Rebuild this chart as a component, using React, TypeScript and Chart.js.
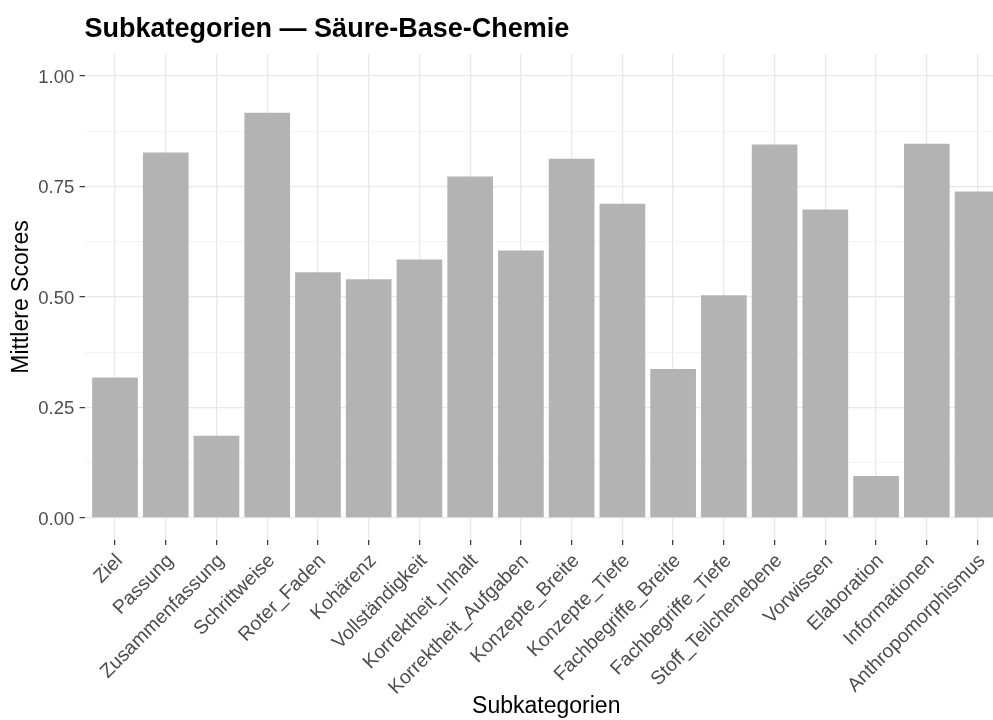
import React, { useEffect, useRef } from "react";
import { Chart, registerables } from "chart.js";

Chart.register(...registerables);

const categories = [
  "Ziel",
  "Passung",
  "Zusammenfassung",
  "Schrittweise",
  "Roter_Faden",
  "Kohärenz",
  "Vollständigkeit",
  "Korrektheit_Inhalt",
  "Korrektheit_Aufgaben",
  "Konzepte_Breite",
  "Konzepte_Tiefe",
  "Fachbegriffe_Breite",
  "Fachbegriffe_Tiefe",
  "Stoff_Teilchenebene",
  "Vorwissen",
  "Elaboration",
  "Informationen",
  "Anthropomorphismus",
];

const scores = [
  0.318, 0.827, 0.186, 0.917, 0.556, 0.54, 0.585, 0.773, 0.605, 0.813, 0.711,
  0.337, 0.504, 0.845, 0.698, 0.095, 0.847, 0.739,
];

const yMajorTicks = [0, 0.25, 0.5, 0.75, 1];
const yMinorTicks = [0.125, 0.375, 0.625, 0.875];

const titleText = "Subkategorien — Säure-Base-Chemie";
const xTitle = "Subkategorien";
const yTitle = "Mittlere Scores";

const FONT = '"Liberation Sans", Arial, Helvetica, sans-serif';

export default function App() {
  const ref = useRef<HTMLCanvasElement | null>(null);

  useEffect(() => {
    if (!ref.current) return;
    Chart.defaults.font.family = FONT;
    const chart = new Chart(ref.current, {
      type: "bar",
      data: {
        datasets: [
          {
            data: scores.map((v, i) => ({ x: i, y: v })),
            backgroundColor: "#B3B3B3",
            borderWidth: 0,
            categoryPercentage: 0.9,
            barPercentage: 1,
          },
        ],
      },
      options: {
        animation: false,
        responsive: false,
        devicePixelRatio: 1,
        layout: { padding: { top: 0, left: 0, right: 0, bottom: 0 } },
        plugins: {
          legend: { display: false },
          tooltip: { enabled: false },
          title: {
            display: true,
            text: titleText,
            align: "start",
            fullSize: false,
            color: "#000000",
            font: { size: 27, weight: "bold", family: FONT },
            padding: { top: 13.5, bottom: 8.1 },
          },
        },
        scales: {
          x: {
            type: "linear",
            min: -0.6,
            max: categories.length - 1 + 0.6,
            offset: false,
            afterBuildTicks: (s: any) => {
              s.ticks = categories.map((_, i) => ({ value: i }));
            },
            afterFit: (s: any) => {
              s.height = 180;
            },
            ticks: {
              autoSkip: false,
              minRotation: 45,
              maxRotation: 45,
              padding: 4.6,
              labelOffset: 4.6,
              color: "#4D4D4D",
              font: { size: 19.5, family: FONT },
              callback: (v: any) => categories[Math.round(Number(v))] ?? "",
            },
            grid: {
              offset: false,
              color: "#E8E8E8",
              lineWidth: 1.3,
              tickColor: "#333333",
              tickLength: 5,
              tickWidth: 1.2,
            },
            border: { display: false },
            title: {
              display: true,
              text: xTitle,
              color: "#000000",
              font: { size: 23, family: FONT, lineHeight: 1 },
              padding: { top: 0, bottom: 1.5 },
            },
          },
          y: {
            type: "linear",
            position: "left",
            min: -0.05,
            max: 1.05,
            afterBuildTicks: (s: any) => {
              s.ticks = yMajorTicks.map((v) => ({ value: v }));
            },
            afterFit: (s: any) => {
              s.width = 84.57;
            },
            ticks: {
              padding: 5.3,
              labelOffset: 1.5,
              color: "#4D4D4D",
              font: { size: 18.5, family: FONT },
              callback: (v: any) => Number(v).toFixed(2),
            },
            grid: {
              color: "#E8E8E8",
              lineWidth: 1.3,
              tickColor: "#333333",
              tickLength: 5,
              tickWidth: 1.2,
            },
            border: { display: false },
            title: {
              display: true,
              text: yTitle,
              color: "#000000",
              font: { size: 23, family: FONT },
              padding: { top: 7.5, bottom: 0 },
            },
          },
          yMinor: {
            type: "linear",
            position: "left",
            min: -0.05,
            max: 1.05,
            afterBuildTicks: (s: any) => {
              s.ticks = yMinorTicks.map((v) => ({ value: v }));
            },
            afterFit: (s: any) => {
              s.width = 0;
            },
            ticks: { display: false },
            grid: {
              color: "#F2F2F2",
              lineWidth: 0.9,
              drawTicks: false,
            },
            border: { display: false },
          },
        },
      } as any,
    });
    return () => chart.destroy();
  }, []);

  return (
    <div
      style={{
        position: "fixed",
        left: 0,
        top: 0,
        width: 993,
        height: 720,
        overflow: "hidden",
        background: "#FFFFFF",
      }}
    >
      <canvas
        ref={ref}
        width={1008}
        height={720}
        style={{ display: "block", width: 1008, height: 720 }}
      />
    </div>
  );
}
